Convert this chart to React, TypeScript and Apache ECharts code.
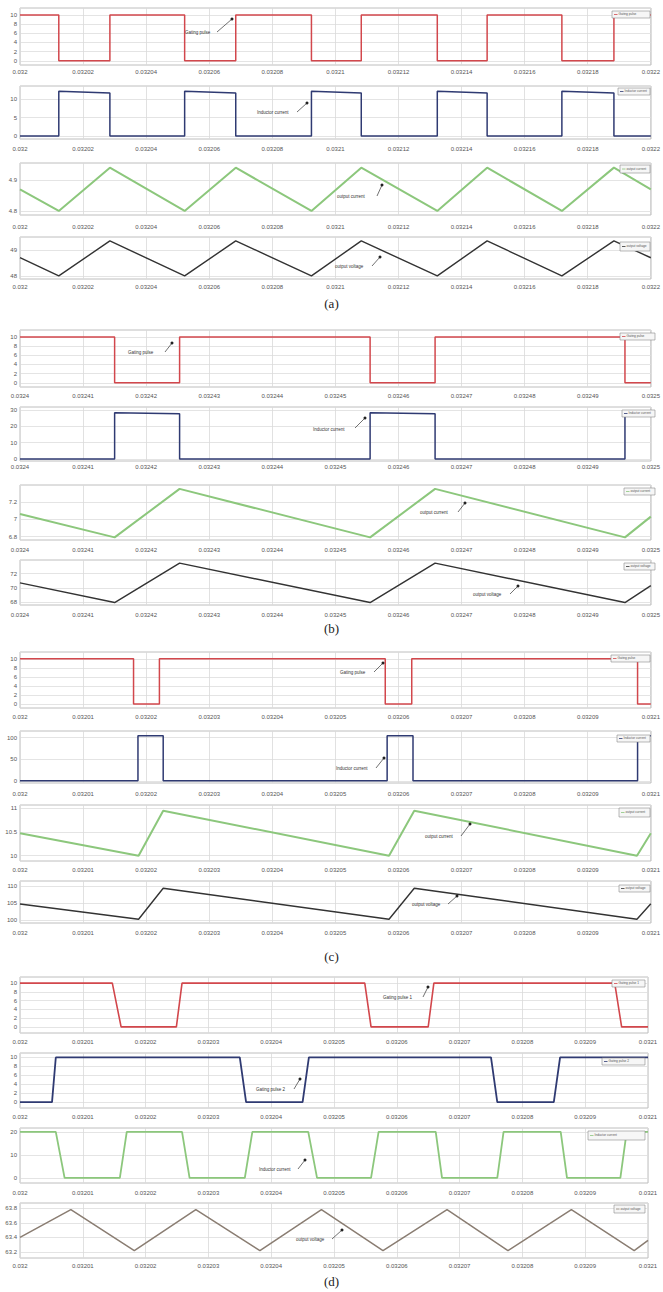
import React, { useEffect, useRef } from 'react';
import * as echarts from 'echarts';

// ---------- x ranges (s) ----------
const A_RANGE = [0.032, 0.0322, 0.00002];
const B_RANGE = [0.0324, 0.0325, 0.00001];
const C_RANGE = [0.032, 0.0321, 0.00001];
const D_RANGE = [0.032, 0.0321, 0.00001];

// ---------- (a) ----------
const aGate = [
  [0.032, 10], [0.0320123, 10], [0.0320123, 0], [0.0320285, 0], [0.0320285, 10],
  [0.0320522, 10], [0.0320522, 0], [0.0320684, 0], [0.0320684, 10],
  [0.0320924, 10], [0.0320924, 0], [0.0321082, 0], [0.0321082, 10],
  [0.0321323, 10], [0.0321323, 0], [0.0321481, 0], [0.0321481, 10],
  [0.0321718, 10], [0.0321718, 0], [0.0321883, 0], [0.0321883, 10], [0.0322, 10],
];
const aInductor = [
  [0.032, 0], [0.0320123, 0], [0.0320123, 12.1], [0.0320285, 11.6], [0.0320285, 0],
  [0.0320522, 0], [0.0320522, 12.1], [0.0320684, 11.6], [0.0320684, 0],
  [0.0320924, 0], [0.0320924, 12.1], [0.0321082, 11.6], [0.0321082, 0],
  [0.0321323, 0], [0.0321323, 12.1], [0.0321481, 11.6], [0.0321481, 0],
  [0.0321718, 0], [0.0321718, 12.1], [0.0321883, 11.6], [0.0321883, 0], [0.0322, 0],
];
const aCurrent = [
  [0.032, 4.87], [0.0320123, 4.8], [0.0320285, 4.94], [0.0320522, 4.8], [0.0320684, 4.94],
  [0.0320924, 4.8], [0.0321082, 4.94], [0.0321323, 4.8], [0.0321481, 4.94],
  [0.0321718, 4.8], [0.0321883, 4.94], [0.0322, 4.87],
];
const aVoltage = [
  [0.032, 48.7], [0.0320123, 48.0], [0.0320285, 49.35], [0.0320522, 48.0], [0.0320684, 49.35],
  [0.0320924, 48.0], [0.0321082, 49.35], [0.0321323, 48.0], [0.0321481, 49.35],
  [0.0321718, 48.0], [0.0321883, 49.35], [0.0322, 48.7],
];

// ---------- (b) ----------
const bGate = [
  [0.0324, 10], [0.032415, 10], [0.032415, 0], [0.0324253, 0], [0.0324253, 10],
  [0.0324555, 10], [0.0324555, 0], [0.0324658, 0], [0.0324658, 10],
  [0.0324959, 10], [0.0324959, 0], [0.0325, 0],
];
const bInductor = [
  [0.0324, 0], [0.032415, 0], [0.032415, 28.3], [0.0324253, 27.6], [0.0324253, 0],
  [0.0324555, 0], [0.0324555, 28.3], [0.0324658, 27.6], [0.0324658, 0],
  [0.0324959, 0], [0.0324959, 28.3], [0.0325, 28.0],
];
const bCurrent = [
  [0.0324, 7.06], [0.032415, 6.79], [0.0324253, 7.35], [0.0324555, 6.79],
  [0.0324658, 7.35], [0.0324959, 6.79], [0.0325, 7.03],
];
const bVoltage = [
  [0.0324, 70.7], [0.032415, 67.9], [0.0324253, 73.5], [0.0324555, 67.9],
  [0.0324658, 73.5], [0.0324959, 67.9], [0.0325, 70.3],
];

// ---------- (c) ----------
const cGate = [
  [0.032, 10], [0.032018, 10], [0.032018, 0], [0.0320221, 0], [0.0320221, 10],
  [0.0320579, 10], [0.0320579, 0], [0.0320621, 0], [0.0320621, 10],
  [0.0320979, 10], [0.0320979, 0], [0.0321, 0],
];
const cInductor = [
  [0.032, 0], [0.0320187, 0], [0.0320187, 104], [0.0320227, 104], [0.0320227, 0],
  [0.0320582, 0], [0.0320582, 104], [0.0320623, 104], [0.0320623, 0],
  [0.0320979, 0], [0.0320979, 104], [0.0321, 104],
];
const cCurrent = [
  [0.032, 10.47], [0.0320188, 10.0], [0.0320227, 10.94], [0.0320585, 10.0],
  [0.0320625, 10.94], [0.0320978, 10.0], [0.0321, 10.47],
];
const cVoltage = [
  [0.032, 104.7], [0.0320188, 100.3], [0.0320227, 109.3], [0.0320585, 100.3],
  [0.0320625, 109.3], [0.0320978, 100.3], [0.0321, 104.8],
];

// ---------- (d) ----------
const dGate1 = [
  [0.032, 10], [0.0320147, 10], [0.0320161, 0], [0.0320249, 0], [0.0320258, 10],
  [0.0320549, 10], [0.0320559, 0], [0.032065, 0], [0.0320659, 10],
  [0.0320947, 10], [0.0320958, 0], [0.0321, 0],
];
const dGate2 = [
  [0.032, 0], [0.0320051, 0], [0.0320057, 10], [0.032035, 10], [0.032036, 0],
  [0.032045, 0], [0.032046, 10], [0.032075, 10], [0.032076, 0],
  [0.032085, 0], [0.032086, 10], [0.0321, 10],
];
const dInductor = [
  [0.032, 20], [0.0320057, 20], [0.0320071, 0], [0.0320159, 0], [0.032017, 20],
  [0.0320258, 20], [0.032027, 0], [0.0320358, 0], [0.032037, 20],
  [0.0320459, 20], [0.0320473, 0], [0.0320559, 0], [0.0320571, 20],
  [0.0320662, 20], [0.0320672, 0], [0.032076, 0], [0.032077, 20],
  [0.0320861, 20], [0.0320871, 0], [0.0320956, 0], [0.0320966, 20], [0.0321, 20],
];
const dVoltage = [
  [0.032, 63.4], [0.0320081, 63.78], [0.0320182, 63.22], [0.032028, 63.78],
  [0.0320382, 63.22], [0.032048, 63.78], [0.0320578, 63.22], [0.032068, 63.78],
  [0.0320777, 63.22], [0.0320878, 63.78], [0.0320978, 63.22], [0.0321, 63.36],
];

// ---------- y ranges [min, max, splitNumber] ----------
const Y_GATE_A = [-0.9, 11.5, 6];
const Y_IND_A = [-0.8, 13.5, 3];
const Y_CUR_A = [4.787, 4.955, 2];
const Y_VOL_A = [47.88, 49.5, 2];
const Y_GATE_B = [-0.9, 11.5, 6];
const Y_IND_B = [-1.2, 31.8, 3];
const Y_CUR_B = [6.76, 7.395, 3];
const Y_VOL_B = [67.55, 73.95, 3];
const Y_GATE_C = [-0.9, 11.5, 6];
const Y_IND_C = [-5, 115, 2];
const Y_CUR_C = [9.89, 11.06, 2];
const Y_VOL_C = [99.2, 111.4, 2];
const Y_GATE1_D = [-1.4, 11.4, 6];
const Y_GATE2_D = [-1.3, 11, 6];
const Y_IND_D = [-2.2, 21.7, 2];
const Y_VOL_D = [63.12, 63.87, 4];

const CAPTIONS = ['(a)', '(b)', '(c)', '(d)'];

const RED = '#d2474c';
const BLUE = '#2f3a72';
const GREEN = '#8cc77c';
const BLACK = '#333333';
const BROWN = '#8a7d72';

type Sub = {
  data: number[][]; x: number[]; y: number[]; color: string; lw: number;
  top: number; h: number; right: number; margin: number; name: string;
  note: [number, number, number, number, number, number];
  leg: [number, number, number, number];
};

const SUBS: Sub[] = [
  { data: aGate, x: A_RANGE, y: Y_GATE_A, color: RED, lw: 1.5, top: 8, h: 57, right: 11, margin: 4, name: 'Gating pulse', note: [185, 33, 217, 32, 232, 19], leg: [612, 11, 38, 7] },
  { data: aInductor, x: A_RANGE, y: Y_IND_A, color: BLUE, lw: 1.5, top: 86, h: 53, right: 11, margin: 7, name: 'Inductor current', note: [257, 113, 297, 112, 307, 103], leg: [618, 88, 32, 7] },
  { data: aCurrent, x: A_RANGE, y: Y_CUR_A, color: GREEN, lw: 2, top: 163, h: 52, right: 11, margin: 9, name: 'output current', note: [337, 197, 377, 196, 382, 185], leg: [620, 165, 30, 8] },
  { data: aVoltage, x: A_RANGE, y: Y_VOL_A, color: BLACK, lw: 1.4, top: 237, h: 42, right: 11, margin: 5, name: 'output voltage', note: [335, 267, 372, 266, 380, 257], leg: [620, 242, 30, 9] },

  { data: bGate, x: B_RANGE, y: Y_GATE_B, color: RED, lw: 1.5, top: 330, h: 57, right: 5, margin: 6, name: 'Gating pulse', note: [128, 353, 165, 352, 172, 343], leg: [620, 333, 35, 7] },
  { data: bInductor, x: B_RANGE, y: Y_IND_B, color: BLUE, lw: 1.5, top: 407, h: 54, right: 5, margin: 3, name: 'Inductor current', note: [313, 430, 355, 428, 365, 418], leg: [622, 410, 33, 7] },
  { data: bCurrent, x: B_RANGE, y: Y_CUR_B, color: GREEN, lw: 2, top: 485, h: 55, right: 5, margin: 7, name: 'output current', note: [420, 513, 458, 512, 465, 503], leg: [624, 488, 31, 7] },
  { data: bVoltage, x: B_RANGE, y: Y_VOL_B, color: BLACK, lw: 1.4, top: 560, h: 45, right: 5, margin: 7, name: 'output voltage', note: [473, 595, 510, 594, 518, 586], leg: [624, 563, 31, 7] },

  { data: cGate, x: C_RANGE, y: Y_GATE_C, color: RED, lw: 1.5, top: 652, h: 56, right: 10, margin: 6, name: 'Gating pulse', note: [340, 673, 374, 672, 383, 663], leg: [611, 655, 39, 7] },
  { data: cInductor, x: C_RANGE, y: Y_IND_C, color: BLUE, lw: 1.5, top: 731, h: 52, right: 10, margin: 8, name: 'Inductor current', note: [336, 769, 376, 768, 384, 758], leg: [617, 735, 33, 7] },
  { data: cCurrent, x: C_RANGE, y: Y_CUR_C, color: GREEN, lw: 2, top: 805, h: 56, right: 10, margin: 6, name: 'output current', note: [425, 837, 461, 836, 470, 824], leg: [619, 808, 31, 9] },
  { data: cVoltage, x: C_RANGE, y: Y_VOL_C, color: BLACK, lw: 1.4, top: 881, h: 42, right: 10, margin: 7, name: 'output voltage', note: [412, 905, 448, 904, 457, 896], leg: [619, 885, 31, 7] },

  { data: dGate1, x: D_RANGE, y: Y_GATE1_D, color: RED, lw: 1.6, top: 977, h: 56, right: 15, margin: 6, name: 'Gating pulse 1', note: [383, 998, 423, 997, 428, 987], leg: [612, 980, 33, 7] },
  { data: dGate2, x: D_RANGE, y: Y_GATE2_D, color: BLUE, lw: 1.8, top: 1053, h: 55, right: 15, margin: 6, name: 'Gating pulse 2', note: [256, 1090, 294, 1089, 300, 1079], leg: [602, 1058, 43, 7] },
  { data: dInductor, x: D_RANGE, y: Y_IND_D, color: GREEN, lw: 1.8, top: 1128, h: 55, right: 15, margin: 7, name: 'Inductor current', note: [259, 1170, 298, 1169, 305, 1160], leg: [588, 1131, 57, 9] },
  { data: dVoltage, x: D_RANGE, y: Y_VOL_D, color: BROWN, lw: 1.5, top: 1203, h: 55, right: 15, margin: 5, name: 'output voltage', note: [296, 1240, 332, 1239, 342, 1230], leg: [614, 1205, 31, 8] },
];

const CAPTION_Y = [305, 630, 958, 1283];

const fmt = (v: number) => String(+v.toFixed(7));

export default function App() {
  const ref = useRef<HTMLDivElement>(null);
  useEffect(() => {
    if (!ref.current) return;
    const chart = echarts.init(ref.current, null, { renderer: 'svg' });
    const grid = SUBS.map((s) => ({
      left: 20, right: s.right, top: s.top, height: s.h,
      show: true, borderColor: '#bfbfbf', borderWidth: 1, backgroundColor: '#ffffff',
    }));
    const xAxis = SUBS.map((s, i) => ({
      type: 'value', gridIndex: i, min: s.x[0], max: s.x[1], interval: s.x[2],
      axisLine: { show: false }, axisTick: { show: false },
      splitLine: { show: true, lineStyle: { color: '#d9d9d9', width: 0.8 } },
      axisLabel: {
        fontSize: 6, color: '#555', margin: s.margin, interval: 0,
        showMinLabel: true, showMaxLabel: true, fontFamily: 'Liberation Sans',
        formatter: (v: number) => fmt(v),
      },
    }));
    const yAxis = SUBS.map((s, i) => ({
      type: 'value', gridIndex: i, min: s.y[0], max: s.y[1], splitNumber: s.y[2],
      axisLine: { show: false }, axisTick: { show: false },
      splitLine: { show: true, lineStyle: { color: '#dddddd', width: 0.8 } },
      axisLabel: {
        fontSize: 6, color: '#555', margin: 3, showMinLabel: false, showMaxLabel: false,
        fontFamily: 'Liberation Sans', formatter: (v: number) => String(+v.toFixed(4)),
      },
    }));
    const series = SUBS.map((s, i) => ({
      type: 'line', name: s.name, xAxisIndex: i, yAxisIndex: i, data: s.data,
      showSymbol: false, symbol: 'none', silent: true,
      lineStyle: { color: s.color, width: s.lw }, itemStyle: { color: s.color },
    }));
    const graphic: any[] = [];
    SUBS.forEach((s) => {
      const [tx, ty, x1, y1, x2, y2] = s.note;
      graphic.push({ type: 'text', left: tx, top: ty - 3, z: 10,
        style: { text: s.name, fontSize: 4.5, fill: '#333', fontFamily: 'Liberation Sans' } });
      graphic.push({ type: 'line', z: 10, shape: { x1, y1, x2, y2 }, style: { stroke: '#333', lineWidth: 0.7 } });
      graphic.push({ type: 'circle', z: 10, shape: { cx: x2, cy: y2, r: 1.5 }, style: { fill: '#222' } });
      const [lx, ly, lw, lh] = s.leg;
      graphic.push({ type: 'rect', z: 10, shape: { x: lx, y: ly, width: lw, height: lh },
        style: { fill: '#f6f6f6', stroke: '#8a8a8a', lineWidth: 0.6 } });
      graphic.push({ type: 'line', z: 11, shape: { x1: lx + 2, y1: ly + lh / 2, x2: lx + 5.5, y2: ly + lh / 2 },
        style: { stroke: s.color, lineWidth: 0.8 } });
      graphic.push({ type: 'text', z: 11, left: lx + 6.5, top: ly + lh / 2 - 1.8,
        style: { text: s.name, fontSize: 3.2, fill: '#555', fontFamily: 'Liberation Sans' } });
    });
    CAPTIONS.forEach((c, i) => {
      graphic.push({ type: 'text', left: 'center', top: CAPTION_Y[i] - 8,
        style: { text: c, fontSize: 13, fill: '#222', fontFamily: 'Liberation Serif' } });
    });
    chart.setOption({
      animation: false,
      backgroundColor: '#ffffff',
      grid, xAxis, yAxis, series, graphic,
    });
    return () => chart.dispose();
  }, []);
  return (
    <div
      ref={ref}
      style={{ position: 'fixed', left: 0, top: 0, width: 663, height: 1292, background: '#fff' }}
    />
  );
}
